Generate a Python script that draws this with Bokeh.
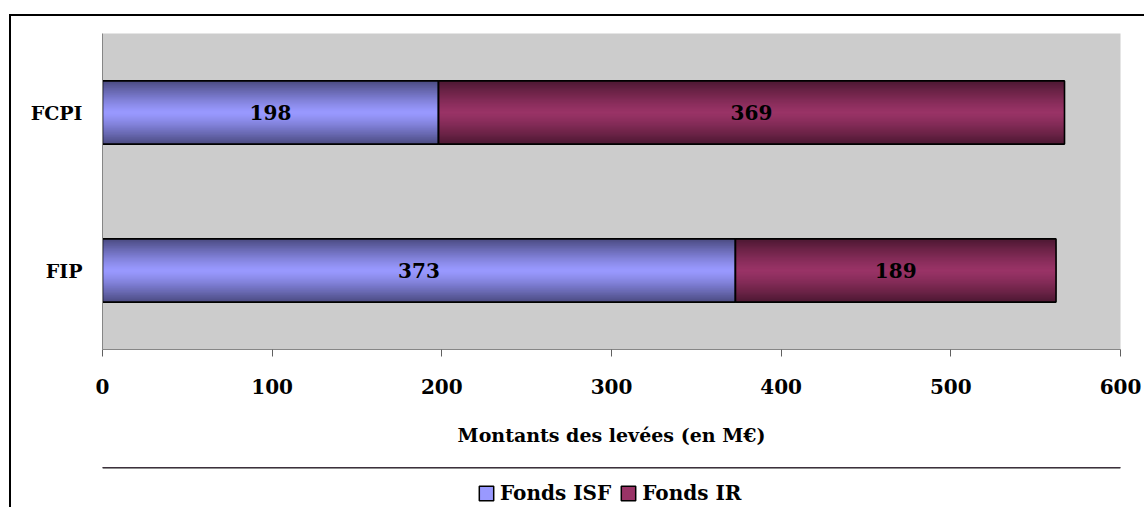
from bokeh.plotting import figure
from bokeh.layouts import column
from bokeh.models import (ColumnDataSource, FactorRange, Range1d, FixedTicker,
                          Legend, LegendItem)
from bokeh.core.properties import value
from bokeh.embed import file_html
from bokeh.resources import INLINE

# ---- data ----
categories = ["FIP", "FCPI"]
fonds_isf = [373, 198]
fonds_ir = [189, 369]
series_names = ["Fonds ISF", "Fonds IR"]
x_ticks = [0, 100, 200, 300, 400, 500, 600]
x_title = "Montants des levées (en M€)"

FONT = "DejaVu Serif"
ISF_LIGHT, ISF_DARK = (153, 153, 255), (74, 74, 128)
IR_LIGHT, IR_DARK = (153, 51, 102), (77, 24, 50)

p = figure(frame_width=1016, frame_height=314, output_backend="svg",
           toolbar_location=None,
           y_range=FactorRange(factors=categories), x_range=Range1d(0, 600),
           min_border_left=91, min_border_right=26, min_border_top=17,
           min_border_bottom=120)
p.margin = (14, 0, 0, 9)
p.styles = {"border-left": "2px solid black", "border-top": "2px solid black"}
p.background_fill_color = "#CCCCCC"
p.border_fill_color = "white"
p.outline_line_color = None
p.xgrid.visible = False
p.ygrid.visible = False

BAR_H = 0.4
N = 28


def lerp(a, b, t):
    return "#%02x%02x%02x" % tuple(int(round(a[i] + (b[i] - a[i]) * t)) for i in range(3))


def gradient_bars(lefts, rights, light, dark):
    ys, ls, rs, hs, cs = [], [], [], [], []
    for k in range(N):
        frac = 1 - k / N
        d = 1 - (k + 0.5) / N
        col = lerp(light, dark, d ** 1.25)
        for c, l, r in zip(categories, lefts, rights):
            ys.append(c); ls.append(l); rs.append(r)
            hs.append(BAR_H * frac); cs.append(col)
    src = ColumnDataSource(dict(y=ys, left=ls, right=rs, h=hs, c=cs))
    p.hbar(y="y", left="left", right="right", height="h", fill_color="c",
           line_color=None, source=src)


isf_left = [0] * len(categories)
isf_right = list(fonds_isf)
ir_left = list(fonds_isf)
ir_right = [a + b for a, b in zip(fonds_isf, fonds_ir)]

gradient_bars(isf_left, isf_right, ISF_LIGHT, ISF_DARK)
gradient_bars(ir_left, ir_right, IR_LIGHT, IR_DARK)

outline_src = ColumnDataSource(dict(y=categories * 2, left=isf_left + ir_left,
                                    right=isf_right + ir_right))
p.hbar(y="y", left="left", right="right", height=BAR_H, fill_color=None,
       line_color="black", line_width=1.6, source=outline_src)

# data labels
lab_src = ColumnDataSource(dict(
    x=[(l + r) / 2 for l, r in zip(isf_left + ir_left, isf_right + ir_right)],
    y=categories * 2,
    t=[str(v) for v in fonds_isf + fonds_ir]))
p.text(x="x", y="y", text="t", source=lab_src, text_align="center",
       text_baseline="middle", text_font=value(FONT), text_font_style="bold",
       text_font_size="20px", text_color="black")

# axes
xa = p.xaxis[0]
xa.ticker = FixedTicker(ticks=x_ticks)
xa.axis_line_color = "#868686"
xa.major_tick_line_color = "#606060"
xa.major_tick_out = 7
xa.major_tick_in = 0
xa.minor_tick_line_color = None
xa.major_label_text_font = FONT
xa.major_label_text_font_style = "bold"
xa.major_label_text_font_size = "20px"
xa.major_label_text_color = "black"
xa.major_label_standoff = 22
xa.axis_label = x_title
xa.axis_label_text_font = FONT
xa.axis_label_text_font_style = "bold"
xa.axis_label_text_font_size = "19px"
xa.axis_label_text_color = "black"
xa.axis_label_standoff = 27

ya = p.yaxis[0]
ya.axis_line_color = "#868686"
ya.major_tick_out = 0
ya.major_tick_in = 0
ya.minor_tick_line_color = None
ya.major_label_text_font = FONT
ya.major_label_text_font_style = "bold"
ya.major_label_text_font_size = "19px"
ya.major_label_text_color = "black"
ya.major_label_standoff = 20

# legend strip (a second, axis-less figure below the chart)
p2 = figure(frame_width=1016, frame_height=40, output_backend="svg",
            toolbar_location=None,
            x_range=Range1d(0, 1), y_range=Range1d(0, 1),
            x_axis_location=None, y_axis_location=None,
            min_border_left=91, min_border_right=26, min_border_top=0,
            min_border_bottom=0)
p2.margin = (0, 0, 0, 9)
p2.styles = {"border-left": "2px solid black"}
p2.background_fill_color = "white"
p2.border_fill_color = "white"
p2.outline_line_color = None
p2.xgrid.visible = False
p2.ygrid.visible = False

# legend swatches: one point each, kept outside the visible range of the strip
swatch = ColumnDataSource(dict(y=[5], left=[0], right=[1]))
r_isf = p2.hbar(y="y", left="left", right="right", height=0.4, source=swatch,
                fill_color="#9999FF", line_color="black", line_width=1.5)
r_ir = p2.hbar(y="y", left="left", right="right", height=0.4, source=swatch,
               fill_color="#993366", line_color="black", line_width=1.5)
legend = Legend(items=[LegendItem(label=series_names[0], renderers=[r_isf]),
                       LegendItem(label=series_names[1], renderers=[r_ir])],
                orientation="horizontal", location=(375, 2),
                label_text_font=FONT, label_text_font_style="bold",
                label_text_font_size="20px", label_text_color="black",
                glyph_width=18, glyph_height=18, label_standoff=5, spacing=8,
                border_line_color=None, background_fill_alpha=0,
                padding=0, margin=0)
p2.add_layout(legend)

layout = column(p, p2, spacing=0)
open("out.html", "w").write(file_html(layout, INLINE))
